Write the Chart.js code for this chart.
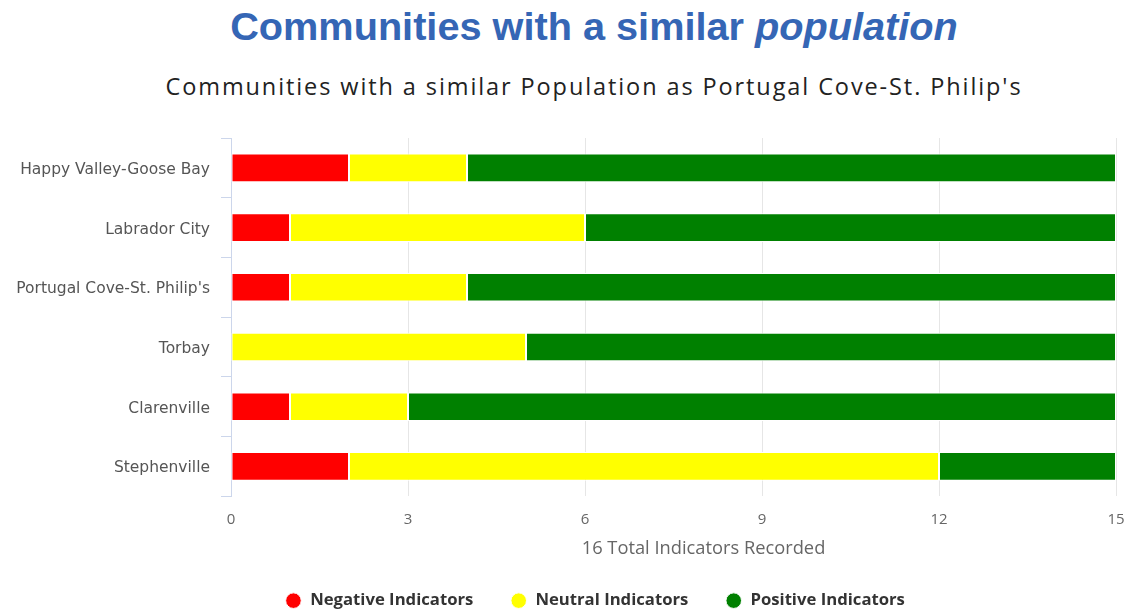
<!DOCTYPE html>
<html>
<head>
<meta charset="utf-8">
<script src="https://cdn.jsdelivr.net/npm/chart.js@4/dist/chart.umd.min.js"></script>
<style>
  html, body { margin: 0; padding: 0; background: #fff; }
  #wrap { position: relative; width: 1132px; height: 612px; overflow: hidden; }
  .head { position: absolute; left: 594px; transform: translateX(-50%); white-space: nowrap; }
  #title { top: 4px; font: bold 39.7px "Liberation Sans", Arial, sans-serif; color: #3566b5; }
  #subtitle { top: 70px; font: 23.5px "Open Sans", sans-serif; letter-spacing: 1.9px; color: #222; }
  canvas { position: absolute; left: 0; top: 0; }
</style>
</head>
<body>
<div id="wrap">
  <div id="title" class="head">Communities with a similar <i>population</i></div>
  <div id="subtitle" class="head">Communities with a similar Population as Portugal Cove-St. Philip's</div>
  <canvas id="indicators" width="1132" height="612"></canvas>
</div>
<script>
  const COMMUNITIES = [
    'Happy Valley-Goose Bay',
    'Labrador City',
    "Portugal Cove-St. Philip's",
    'Torbay',
    'Clarenville',
    'Stephenville'
  ];
  const NEGATIVE = [2, 1, 1, 0, 1, 2];
  const NEUTRAL = [2, 5, 3, 5, 2, 10];
  const POSITIVE = [11, 9, 11, 10, 12, 3];
  const X_MAX = 15;
  const X_STEP = 3;
  const AXIS_TITLE = '16 Total Indicators Recorded';

  const COLORS = {
    negative: '#ff0000',
    neutral: '#ffff00',
    positive: '#008000'
  };

  const bar = (label, data, color) => ({
    label: label,
    data: data,
    backgroundColor: color,
    borderColor: '#ffffff',
    borderWidth: 1,
    borderSkipped: false,
    categoryPercentage: 1,
    barPercentage: 0.48
  });

  // x axis caption, drawn a little right of the plot centre;
  // the legend is nudged the same way
  const axisCaption = {
    id: 'axisCaption',
    afterLayout(chart) {
      chart.legend.left += 29;
      chart.legend.right += 29;
    },
    afterDraw(chart) {
      const {ctx, chartArea, scales} = chart;
      ctx.save();
      ctx.font = '18.3px "Open Sans", sans-serif';
      ctx.fillStyle = '#666';
      ctx.textAlign = 'center';
      ctx.textBaseline = 'middle';
      ctx.fillText(AXIS_TITLE, (chartArea.left + chartArea.right) / 2 + 30, scales.x.top + 52);
      ctx.restore();
    }
  };

  new Chart(document.getElementById('indicators').getContext('2d'), {
    type: 'bar',
    data: {
      labels: COMMUNITIES,
      datasets: [
        bar('Negative Indicators', NEGATIVE, COLORS.negative),
        bar('Neutral Indicators', NEUTRAL, COLORS.neutral),
        bar('Positive Indicators', POSITIVE, COLORS.positive)
      ]
    },
    plugins: [axisCaption],
    options: {
      indexAxis: 'y',
      responsive: false,
      animation: false,
      layout: { padding: { top: 138, right: 0, left: 0, bottom: -7 } },
      plugins: {
        tooltip: { enabled: false },
        legend: {
          position: 'bottom',
          labels: {
            usePointStyle: true,
            pointStyle: 'circle',
            boxWidth: 18,
            boxHeight: 11,
            padding: 37,
            color: '#333',
            font: { family: '"Open Sans", sans-serif', size: 16.7, weight: 'bold' }
          }
        }
      },
      scales: {
        x: {
          stacked: true,
          min: 0,
          max: X_MAX,
          ticks: {
            stepSize: X_STEP,
            color: '#666',
            padding: 14,
            font: { family: '"Open Sans", sans-serif', size: 15 }
          },
          grid: { color: '#e6e6e6', drawTicks: false },
          border: { display: false },
          afterFit: (scale) => {
            scale.height = 59;
            scale.paddingRight = 16;
          }
        },
        y: {
          stacked: true,
          ticks: {
            color: '#555',
            padding: 11,
            labelOffset: 2,
            font: { family: '"DejaVu Sans", Verdana, sans-serif', size: 15.5 }
          },
          grid: {
            offset: true,
            drawOnChartArea: false,
            tickLength: 10,
            color: '#ccd6eb'
          },
          border: { display: true, color: '#ccd6eb' },
          afterFit: (scale) => { scale.width = 231; }
        }
      }
    }
  });
</script>
</body>
</html>
